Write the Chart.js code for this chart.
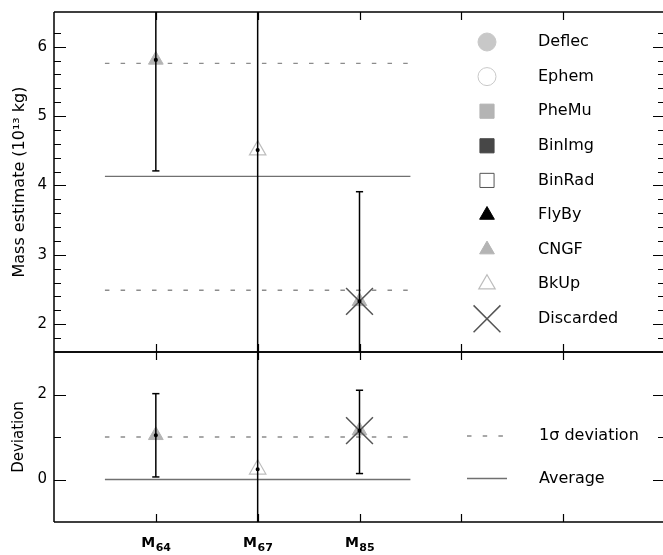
<!DOCTYPE html>
<html><head><meta charset="utf-8">
<script src="https://cdn.jsdelivr.net/npm/chart.js@4.4.1/dist/chart.umd.min.js"></script>
<style>
html,body{margin:0;padding:0;background:#fff;overflow:hidden;}
#wrap{position:relative;width:663px;height:555px;overflow:hidden;background:#fff;}
.pane{position:absolute;left:0;top:0;width:680px;height:555px;}
</style></head><body>
<div id="wrap">
  <div class="pane"><canvas id="topChart"></canvas></div>
  <div class="pane"><canvas id="botChart"></canvas></div>
</div>
<script>
// ---------------- DATA ----------------
const categories   = ['M64', 'M67', 'M85'];
const catPos       = [1, 2, 3];
const methods      = ['CNGF', 'BkUp', 'CNGF'];
const discarded    = [false, false, true];

const massValue    = [5.81, 4.51, 2.33];
const massErrLow   = [4.21, -6.0, 0.66];
const massErrHigh  = [7.42, 15.0, 3.91];
const massAverage  = 4.13;
const massSigmaBand = [5.76, 2.49];

const devValue     = [1.04, 0.24, 1.15];
const devErrLow    = [0.06, -5.0, 0.14];
const devErrHigh   = [2.02, 5.0, 2.10];
const devAverage   = 0;
const devSigma     = 1;

const refLineSpan  = [0.5, 3.5];
const legendMethods = ['Deflec', 'Ephem', 'PheMu', 'BinImg', 'BinRad', 'FlyBy', 'CNGF', 'BkUp', 'Discarded'];
const devLegend    = ['1\u03c3 deviation', 'Average'];

// ---------------- STYLE ----------------
const FONT = "'DejaVu Sans', sans-serif";
const W = 680, H = 555;
const AREA = {left: 54, right: 665, top: 12, mid: 352, bottom: 522};

const markerStyles = {
  Deflec:    {pointStyle: 'circle',   radius: 9,   bg: '#c8c8c8', border: '#c8c8c8', bw: 1},
  Ephem:     {pointStyle: 'circle',   radius: 9,   bg: 'rgba(0,0,0,0)', border: '#c8c8c8', bw: 1},
  PheMu:     {pointStyle: 'rect',     radius: 10,  bg: '#b4b4b4', border: '#b4b4b4', bw: 1},
  BinImg:    {pointStyle: 'rect',     radius: 10,  bg: '#474747', border: '#474747', bw: 1},
  BinRad:    {pointStyle: 'rect',     radius: 10,  bg: '#ffffff', border: '#555555', bw: 1},
  FlyBy:     {pointStyle: 'triangle', radius: 8.5, bg: '#000000', border: '#000000', bw: 1},
  CNGF:      {pointStyle: 'triangle', radius: 8.5, bg: '#b4b4b4', border: '#b4b4b4', bw: 1},
  BkUp:      {pointStyle: 'triangle', radius: 9.5, bg: 'rgba(0,0,0,0)', border: '#bdbdbd', bw: 1.2},
  Discarded: {pointStyle: 'crossRot', radius: 19,  bg: 'rgba(0,0,0,0)', border: '#555555', bw: 1.5}
};
const AVG_COLOR = '#707070', SIG_COLOR = '#8c8c8c', DASH = [4.5, 11.2];

function isInt(v){ return Math.abs(v - Math.round(v)) < 1e-6; }

function buildDatasets(vals, lo, hi, avg, sig) {
  const ds = [];
  catPos.forEach((x, i) => {
    ds.push({
      data: [{x, y: lo[i]}, {x, y: vals[i]}, {x, y: hi[i]}],
      showLine: true, borderColor: '#000', borderWidth: 1.5,
      pointStyle: c => c.dataIndex === 1 ? 'circle' : 'line',
      pointRadius: c => c.dataIndex === 1 ? 1.3 : 3.6,
      pointBorderWidth: 1.5, pointBorderColor: '#000', pointBackgroundColor: '#000'
    });
  });
  const disc = catPos.map((x, i) => discarded[i] ? {x, y: vals[i]} : null).filter(Boolean);
  const sd = markerStyles.Discarded;
  ds.push({data: disc, showLine: false, pointStyle: sd.pointStyle, pointRadius: sd.radius,
    pointBorderColor: sd.border, pointBackgroundColor: sd.bg, pointBorderWidth: sd.bw});
  [...new Set(methods)].forEach(m => {
    const s = markerStyles[m];
    const d = catPos.map((x, i) => methods[i] === m ? {x, y: vals[i]} : null).filter(Boolean);
    ds.push({data: d, showLine: false, pointStyle: s.pointStyle, pointRadius: s.radius,
      pointBorderColor: s.border, pointBackgroundColor: s.bg, pointBorderWidth: s.bw});
  });
  ds.push({data: [{x: refLineSpan[0], y: avg}, {x: refLineSpan[1], y: avg}], showLine: true,
    borderColor: AVG_COLOR, borderWidth: 1.3, pointRadius: 0});
  sig.forEach(v => ds.push({data: [{x: refLineSpan[0], y: v}, {x: refLineSpan[1], y: v}], showLine: true,
    borderColor: SIG_COLOR, borderWidth: 1.3, borderDash: DASH, pointRadius: 0}));
  return ds;
}

function framePlugin(isTop) {
  return {
    id: 'frame' + (isTop ? 'T' : 'B'),
    afterDatasetsDraw(chart) {
      const {ctx, chartArea: a, scales: {x, y}} = chart;
      ctx.save();
      ctx.strokeStyle = '#000';
      ctx.lineWidth = 1.5;
      ctx.beginPath();
      ctx.moveTo(a.left, a.top); ctx.lineTo(a.right, a.top);
      ctx.moveTo(a.left, a.bottom); ctx.lineTo(a.right, a.bottom);
      ctx.moveTo(a.left, a.top); ctx.lineTo(a.left, a.bottom);
      ctx.moveTo(a.right, a.top); ctx.lineTo(a.right, a.bottom);
      ctx.stroke();
      ctx.lineWidth = 1.2;
      ctx.beginPath();
      y.ticks.forEach(t => {
        const v = t.value;
        if (v <= y.min + 1e-6 || v >= y.max - 1e-6) return;
        if (isTop && !isInt(v * 5)) return;
        const major = isTop ? isInt(v) : isInt(v / 2);
        const len = major ? 12 : 7;
        const py = Math.round(y.getPixelForValue(v)) + 0.5;
        ctx.moveTo(a.left, py); ctx.lineTo(a.left + len, py);
        ctx.moveTo(a.right, py); ctx.lineTo(a.right - len, py);
      });
      for (let v = Math.ceil(x.min + 1e-6); v < x.max; v++) {
        const px = Math.round(x.getPixelForValue(v)) + 0.5;
        ctx.moveTo(px, a.top); ctx.lineTo(px, a.top + 8);
        ctx.moveTo(px, a.bottom); ctx.lineTo(px, a.bottom - 8);
      }
      ctx.stroke();
      if (!isTop) {
        // category labels with subscript, placed by the x scale
        ctx.fillStyle = '#000';
        ctx.textBaseline = 'alphabetic';
        ctx.textAlign = 'left';
        categories.forEach((c, i) => {
          const px = x.getPixelForValue(catPos[i]);
          const main = c.charAt(0), sub = c.slice(1);
          ctx.font = 'bold 14px ' + FONT;
          const wm = ctx.measureText(main).width;
          ctx.font = 'bold 11px ' + FONT;
          const ws = ctx.measureText(sub).width;
          const x0 = px - (wm + ws) / 2;
          ctx.font = 'bold 14px ' + FONT;
          ctx.fillText(main, x0, a.bottom + 24.5);
          ctx.font = 'bold 11px ' + FONT;
          ctx.fillText(sub, x0 + wm + 0.5, a.bottom + 28.5);
        });
      }
      ctx.restore();
    }
  };
}

const legendPlugin = {
  id: 'methodLegend',
  afterDraw(chart) {
    const {ctx, chartArea: a} = chart;
    const mx = a.left + 433, tx = a.left + 484;
    ctx.save();
    legendMethods.forEach((m, i) => {
      const yy = a.top + 30 + i * 34.6;
      const s = markerStyles[m];
      ctx.fillStyle = s.bg; ctx.strokeStyle = s.border; ctx.lineWidth = s.bw;
      Chart.helpers.drawPoint(ctx, {pointStyle: s.pointStyle, radius: s.radius, rotation: 0, borderWidth: s.bw}, mx, yy);
      ctx.fillStyle = '#000';
      ctx.font = '16px ' + FONT;
      ctx.textBaseline = 'middle';
      ctx.textAlign = 'left';
      ctx.fillText(m, tx, yy);
    });
    ctx.restore();
  }
};

const devLegendPlugin = {
  id: 'devLegend',
  afterDraw(chart) {
    const {ctx, chartArea: a, scales: {y}} = chart;
    const x0 = a.left + 413, x1 = a.left + 453, tx = a.left + 485;
    const rows = [devSigma, devAverage];
    ctx.save();
    rows.forEach((v, i) => {
      const yy = y.getPixelForValue(v) - 1;
      ctx.beginPath();
      ctx.strokeStyle = i === 0 ? SIG_COLOR : AVG_COLOR;
      ctx.lineWidth = 1.3;
      ctx.setLineDash(i === 0 ? DASH : []);
      ctx.moveTo(x0, yy); ctx.lineTo(x1, yy); ctx.stroke();
      ctx.setLineDash([]);
      ctx.fillStyle = '#000';
      ctx.font = '16px ' + FONT;
      ctx.textBaseline = 'middle';
      ctx.fillText(devLegend[i], tx, yy);
    });
    ctx.restore();
  }
};

const common = {
  responsive: true, maintainAspectRatio: false, animation: false, events: [],
  devicePixelRatio: 1
};
function zeroPad(s) { s.paddingTop = 0; s.paddingBottom = 0; s.paddingLeft = 0; s.paddingRight = 0; }
const yAxisBase = (min, max, step, cb, title, tsize) => ({
  type: 'linear', min, max,
  afterFit: s => { s.width = AREA.left; zeroPad(s); },
  grid: {display: false, drawTicks: false}, border: {display: false},
  ticks: {stepSize: step, padding: 7, autoSkip: false, color: '#000', font: {family: FONT, size: 15}, callback: cb},
  title: {display: true, text: title, color: '#000', font: {family: FONT, size: tsize}, padding: {top: 10, bottom: 0}}
});

new Chart(document.getElementById('topChart'), {
  type: 'scatter',
  data: {datasets: buildDatasets(massValue, massErrLow, massErrHigh, massAverage, massSigmaBand)},
  options: Object.assign({}, common, {
    layout: {autoPadding: false, padding: {left: 0, right: W - AREA.right, top: AREA.top, bottom: H - AREA.mid}},
    plugins: {legend: {display: false}, tooltip: {enabled: false}},
    scales: {
      x: {type: 'linear', min: 0, max: 6, display: false, afterFit: zeroPad},
      y: yAxisBase(1.6, 6.5, 0.2, v => isInt(v) ? String(Math.round(v)) : '', 'Mass estimate (10\u00b9\u00b3 kg)', 16)
    }
  }),
  plugins: [framePlugin(true), legendPlugin]
});

new Chart(document.getElementById('botChart'), {
  type: 'scatter',
  data: {datasets: buildDatasets(devValue, devErrLow, devErrHigh, devAverage, [devSigma])},
  options: Object.assign({}, common, {
    layout: {autoPadding: false, padding: {left: 0, right: W - AREA.right, top: AREA.mid, bottom: 0}},
    plugins: {legend: {display: false}, tooltip: {enabled: false}},
    scales: {
      x: {type: 'linear', min: 0, max: 6,
          afterFit: s => { s.height = H - AREA.bottom; zeroPad(s); },
          grid: {display: false, drawTicks: false}, border: {display: false},
          ticks: {stepSize: 1, autoSkip: false, maxRotation: 0, display: false}},
      y: yAxisBase(-1, 3, 1, v => isInt(v / 2) ? String(v) : '', 'Deviation', 15)
    }
  }),
  plugins: [framePlugin(false), devLegendPlugin]
});
</script>
</body></html>
